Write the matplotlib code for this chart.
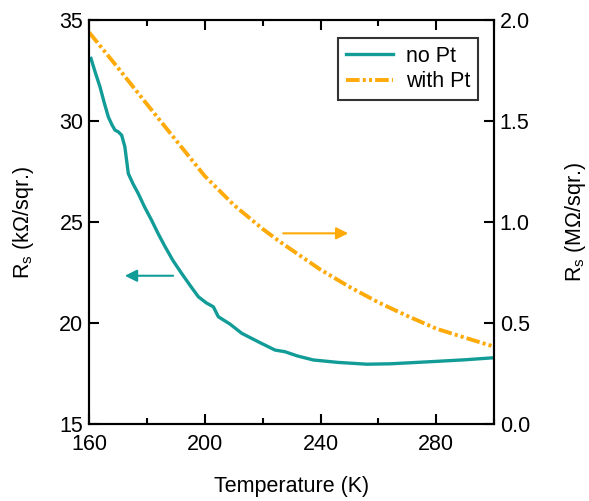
import numpy as np
import matplotlib
matplotlib.use("Agg")
import matplotlib.pyplot as plt
from matplotlib.ticker import MultipleLocator

plt.rcParams['font.family'] = ['Liberation Sans', 'DejaVu Sans']
plt.rcParams['mathtext.default'] = 'regular'

# no Pt, left axis (kOhm/sqr.)
T_nopt = [160.7, 162.2, 163.8, 165.2, 166.7, 168.0, 169.0, 170.1, 171.3, 172.4, 173.6,
          175.2, 177.0, 179.2, 181.6, 184.0, 186.3, 189.0, 192.0, 195.0, 197.8,
          200.5, 203.0, 204.7, 208.7, 212.8, 218.5, 224.3, 227.7,
          232.0, 237.5, 246.0, 256.0, 264.0, 272.1, 280.0, 290.0, 299.8]
R_nopt = [33.1, 32.4, 31.7, 30.95, 30.2, 29.8, 29.55, 29.47, 29.3, 28.73, 27.4,
          26.9, 26.42, 25.75, 25.1, 24.4, 23.78, 23.1, 22.46, 21.85, 21.3,
          21.0, 20.8, 20.31, 19.95, 19.49, 19.07, 18.66, 18.58,
          18.37, 18.17, 18.05, 17.96, 17.98, 18.04, 18.1, 18.18, 18.28]

# with Pt, right axis (MOhm/sqr.)
T_pt = [160, 170, 180, 190, 200, 210, 220, 226, 240, 250, 260, 270, 280, 290, 300]
R_pt = [1.94, 1.764, 1.584, 1.406, 1.228, 1.085, 0.966, 0.902, 0.764, 0.679,
        0.602, 0.535, 0.472, 0.427, 0.383]

teal = '#129c98'
orange = '#fdaa0a'

fig = plt.figure(figsize=(5.89, 5.01), dpi=100)
ax = fig.add_axes([0.151, 0.1537, 0.688, 0.8063])
ax2 = ax.twinx()

l1, = ax.plot(T_nopt, R_nopt, color=teal, lw=2.4, label='no Pt')
l2, = ax2.plot(T_pt, R_pt, color=orange, lw=2.8, label='with Pt',
               linestyle=(0, (3.5, 0.8, 0.8, 0.8, 0.8, 0.8)), dash_capstyle='butt')

ax.set_xlim(160, 300)
ax.set_ylim(15, 35)
ax2.set_ylim(0, 2.0)
ax.xaxis.set_major_locator(MultipleLocator(40))
ax.xaxis.set_minor_locator(MultipleLocator(20))
ax.yaxis.set_major_locator(MultipleLocator(5))
ax2.yaxis.set_major_locator(MultipleLocator(0.5))
ax2.yaxis.set_major_formatter(matplotlib.ticker.FormatStrFormatter('%.1f'))

fs = 15.5
for a in (ax, ax2):
    for s in a.spines.values():
        s.set_linewidth(1.5)
ax.tick_params(axis='x', which='major', direction='in', top=True, length=7, width=1.5, labelsize=fs, pad=7)
ax.tick_params(axis='x', which='minor', direction='in', top=True, length=4, width=1.5)
ax.tick_params(axis='y', which='major', direction='in', length=7, width=1.5, labelsize=fs, pad=4)
ax2.tick_params(axis='y', which='major', direction='in', length=7, width=1.5, labelsize=fs, pad=4)

ax.set_xlabel('Temperature (K)', fontsize=fs, labelpad=15)
ax.set_ylabel('R$_s$ (kΩ/sqr.)', fontsize=fs, labelpad=17)
ax2.set_ylabel('R$_s$ (MΩ/sqr.)', fontsize=fs, labelpad=24)

# arrows indicating axes
ax.annotate('', xy=(172.4, 22.34), xytext=(189.1, 22.34),
            arrowprops=dict(arrowstyle='-|>', color=teal, lw=1.5, mutation_scale=18, shrinkA=0, shrinkB=0))
ax.annotate('', xy=(249.6, 24.44), xytext=(227.1, 24.44),
            arrowprops=dict(arrowstyle='-|>', color=orange, lw=1.5, mutation_scale=18, shrinkA=0, shrinkB=0))

leg = ax.legend(handles=[l1, l2], loc='upper right', fontsize=fs, frameon=True,
                fancybox=False, edgecolor='black', borderpad=0.35, handlelength=2.2,
                handletextpad=0.6, labelspacing=0.2, borderaxespad=0,
                bbox_to_anchor=(0.96, 0.955))
leg.get_frame().set_linewidth(1.5)

fig.savefig('out.png', dpi=100)
